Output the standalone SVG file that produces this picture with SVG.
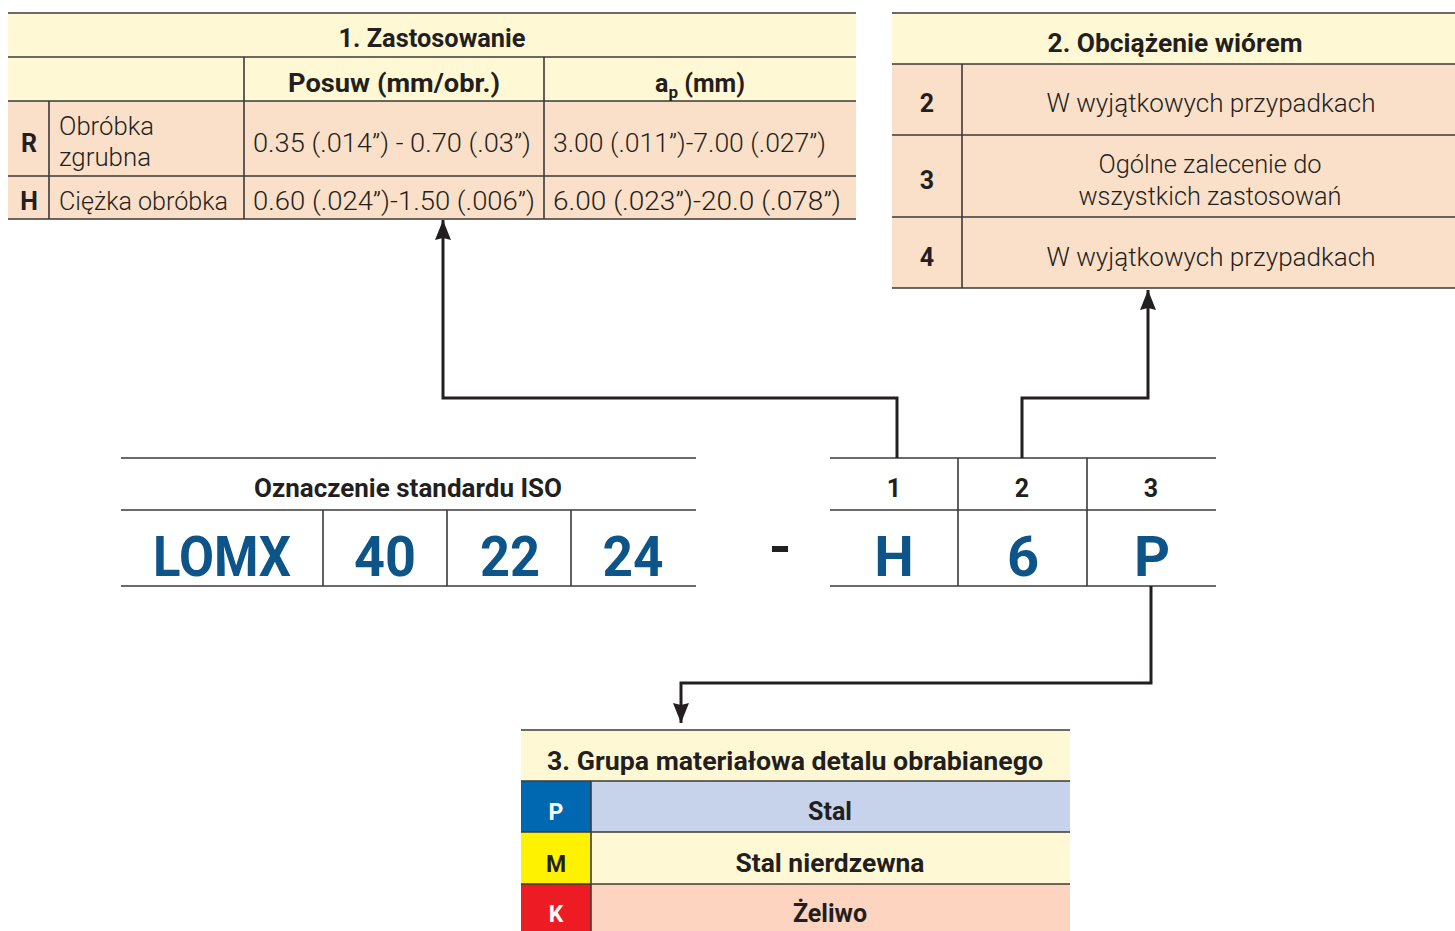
<svg xmlns="http://www.w3.org/2000/svg" width="1455" height="931" viewBox="0 0 1455 931">
  <defs>
    <style>
      .yel { fill: #FFF8D5; }
      .peach { fill: #FADFC9; }
      .ln { stroke: #3C3A3B; stroke-width: 1.6; fill: none; }
      .hb { font-family: Roboto, "Liberation Sans", sans-serif; font-weight: 700; fill: #231F20; }
      .lt { font-family: Roboto, "Liberation Sans", sans-serif; font-weight: 300; fill: #231F20; }
      .code { font-family: Roboto, "Liberation Sans", sans-serif; font-weight: 700; fill: #0D5489; font-size: 56px; }
      .wh { font-family: Roboto, "Liberation Sans", sans-serif; font-weight: 700; fill: #FFFFFF; }
      .conn { stroke: #231F20; stroke-width: 3; fill: none; }
    </style>
    <marker id="arrow" viewBox="0 0 20 16" refX="20" refY="8" markerWidth="20" markerHeight="16" markerUnits="userSpaceOnUse" orient="auto">
      <path d="M0,0 L20,8 L0,16 L2,8 Z" fill="#231F20"/>
    </marker>
  </defs>

  <!-- Table 1: application -->
  <g id="table-zastosowanie">
    <rect class="yel" x="8" y="13" width="848" height="88"/>
    <rect class="peach" x="8" y="101" width="848" height="118"/>
    <path class="ln" d="M8,13H856 M8,57H856 M8,101H856 M8,176H856 M8,219H856 M49,101V219 M244,57V219 M544,57V219"/>
    <text class="hb" x="432" y="47" font-size="25" text-anchor="middle" textLength="187" lengthAdjust="spacingAndGlyphs">1. Zastosowanie</text>
    <text class="hb" x="394" y="92" font-size="25" text-anchor="middle" textLength="212" lengthAdjust="spacingAndGlyphs">Posuw (mm/obr.)</text>
    <text class="hb" x="700" y="92" font-size="25" text-anchor="middle">a<tspan font-size="17" dy="6">p</tspan><tspan dy="-6"> (mm)</tspan></text>
    <text class="hb" x="29" y="152" font-size="25" text-anchor="middle">R</text>
    <text class="hb" x="29" y="210" font-size="25" text-anchor="middle">H</text>
    <text class="lt" x="59" y="135" font-size="25" textLength="95" lengthAdjust="spacingAndGlyphs">Obróbka</text>
    <text class="lt" x="59" y="166" font-size="25" textLength="92" lengthAdjust="spacingAndGlyphs">zgrubna</text>
    <text class="lt" x="59" y="210" font-size="25" textLength="169" lengthAdjust="spacingAndGlyphs">Ciężka obróbka</text>
    <text class="lt" x="253" y="152" font-size="25" textLength="278" lengthAdjust="spacingAndGlyphs">0.35 (.014”) - 0.70 (.03”)</text>
    <text class="lt" x="553" y="152" font-size="25" textLength="273" lengthAdjust="spacingAndGlyphs">3.00 (.011”)-7.00 (.027”)</text>
    <text class="lt" x="253" y="210" font-size="25" textLength="282" lengthAdjust="spacingAndGlyphs">0.60 (.024”)-1.50 (.006”)</text>
    <text class="lt" x="553" y="210" font-size="25" textLength="288" lengthAdjust="spacingAndGlyphs">6.00 (.023”)-20.0 (.078”)</text>
  </g>

  <!-- Table 2: chip load -->
  <g id="table-obciazenie">
    <rect class="yel" x="892" y="13" width="563" height="51"/>
    <rect class="peach" x="892" y="64" width="563" height="224"/>
    <path class="ln" d="M892,13H1455 M892,64H1455 M892,135H1455 M892,217H1455 M892,288H1455 M962,64V288"/>
    <text class="hb" x="1175" y="52" font-size="25" text-anchor="middle" textLength="255" lengthAdjust="spacingAndGlyphs">2. Obciążenie wiórem</text>
    <text class="hb" x="927" y="112" font-size="25" text-anchor="middle">2</text>
    <text class="hb" x="927" y="189" font-size="25" text-anchor="middle">3</text>
    <text class="hb" x="927" y="266" font-size="25" text-anchor="middle">4</text>
    <text class="lt" x="1211" y="112" font-size="25" text-anchor="middle" textLength="329" lengthAdjust="spacingAndGlyphs">W wyjątkowych przypadkach</text>
    <text class="lt" x="1210" y="173" font-size="25" text-anchor="middle" textLength="223" lengthAdjust="spacingAndGlyphs">Ogólne zalecenie do</text>
    <text class="lt" x="1210" y="205" font-size="25" text-anchor="middle" textLength="263" lengthAdjust="spacingAndGlyphs">wszystkich zastosowań</text>
    <text class="lt" x="1211" y="266" font-size="25" text-anchor="middle" textLength="329" lengthAdjust="spacingAndGlyphs">W wyjątkowych przypadkach</text>
  </g>

  <!-- ISO designation -->
  <g id="iso-code">
    <path class="ln" d="M121,458H696 M121,510H696 M121,586H696 M323,510V586 M447,510V586 M571,510V586"/>
    <text class="hb" x="408" y="497" font-size="25" text-anchor="middle" textLength="308" lengthAdjust="spacingAndGlyphs">Oznaczenie standardu ISO</text>
    <text class="code" x="222" y="576" text-anchor="middle" textLength="138" lengthAdjust="spacingAndGlyphs">LOMX</text>
    <text class="code" x="385" y="576" text-anchor="middle" textLength="62" lengthAdjust="spacingAndGlyphs">40</text>
    <text class="code" x="510" y="576" text-anchor="middle" textLength="60" lengthAdjust="spacingAndGlyphs">22</text>
    <text class="code" x="633" y="576" text-anchor="middle" textLength="61" lengthAdjust="spacingAndGlyphs">24</text>
  </g>

  <!-- separator dash -->
  <rect id="dash" x="772" y="546" width="16" height="6" fill="#231F20"/>

  <!-- Suffix code -->
  <g id="suffix-code">
    <path class="ln" d="M830,458H1216 M830,510H1216 M830,586H1216 M958,458V586 M1087,458V586"/>
    <text class="hb" x="894" y="497" font-size="25" text-anchor="middle">1</text>
    <text class="hb" x="1022" y="497" font-size="25" text-anchor="middle">2</text>
    <text class="hb" x="1151" y="497" font-size="25" text-anchor="middle">3</text>
    <text class="code" x="894" y="576" text-anchor="middle">H</text>
    <text class="code" x="1023" y="576" text-anchor="middle">6</text>
    <text class="code" x="1152" y="576" text-anchor="middle">P</text>
  </g>

  <!-- Table 3: workpiece material group -->
  <g id="table-material">
    <rect class="yel" x="521" y="730" width="549" height="51"/>
    <rect x="591" y="781" width="479" height="51" fill="#C7D3EA"/>
    <rect x="591" y="832" width="479" height="52" fill="#FFF8D5"/>
    <rect x="591" y="884" width="479" height="47" fill="#FCD4C0"/>
    <rect x="521" y="781" width="70" height="51" fill="#0067B1"/>
    <rect x="521" y="832" width="70" height="52" fill="#FFF200"/>
    <rect x="521" y="884" width="70" height="47" fill="#ED1C24"/>
    <path class="ln" d="M521,730H1070 M521,781H1070 M521,832H1070 M521,884H1070 M591,781V931"/>
    <text class="hb" x="795" y="770" font-size="25" text-anchor="middle" textLength="496" lengthAdjust="spacingAndGlyphs">3. Grupa materiałowa detalu obrabianego</text>
    <text class="wh" x="556" y="820" font-size="23" text-anchor="middle">P</text>
    <text class="hb" x="830" y="820" font-size="25" text-anchor="middle">Stal</text>
    <text class="hb" x="556" y="872" font-size="23" text-anchor="middle">M</text>
    <text class="hb" x="830" y="872" font-size="25" text-anchor="middle" textLength="189" lengthAdjust="spacingAndGlyphs">Stal nierdzewna</text>
    <text class="wh" x="556" y="922" font-size="23" text-anchor="middle">K</text>
    <text class="hb" x="830" y="922" font-size="25" text-anchor="middle">Żeliwo</text>
  </g>

  <!-- Connectors -->
  <g id="connectors">
    <path class="conn" d="M897,458V398H443V220" marker-end="url(#arrow)"/>
    <path class="conn" d="M1022,458V398H1148V290" marker-end="url(#arrow)"/>
    <path class="conn" d="M1151,586V683H681V723" marker-end="url(#arrow)"/>
  </g>
</svg>
